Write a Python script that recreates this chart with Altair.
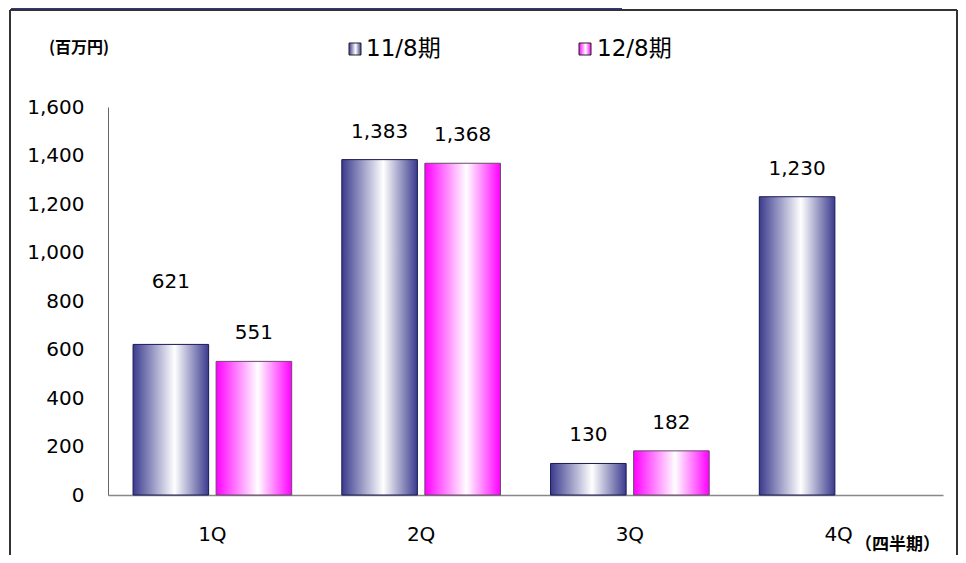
import altair as alt
import pandas as pd

quarters = ["1Q", "2Q", "3Q", "4Q"]
series_names = ["11/8期", "12/8期"]
fy11 = [621, 1383, 130, 1230]
fy12 = [551, 1368, 182, None]
y_ticks = [0, 200, 400, 600, 800, 1000, 1200, 1400, 1600]

rows = []
for q, v in zip(quarters, fy11):
    rows.append({"quarter": q, "series": series_names[0], "value": v})
for q, v in zip(quarters, fy12):
    if v is not None:
        rows.append({"quarter": q, "series": series_names[1], "value": v})
df = pd.DataFrame(rows)

FONT = "DejaVu Sans, Noto Sans CJK JP, sans-serif"
CJK = "Noto Sans CJK JP"

blue_grad = alt.Gradient(
    gradient="linear", x1=0, x2=1, y1=0, y2=0,
    stops=[alt.GradientStop(offset=0, color="#3b3b8e"),
           alt.GradientStop(offset=0.55, color="#ffffff"),
           alt.GradientStop(offset=1, color="#3b3b8e")])
pink_grad = alt.Gradient(
    gradient="linear", x1=0, x2=1, y1=0, y2=0,
    stops=[alt.GradientStop(offset=0, color="#ff00ff"),
           alt.GradientStop(offset=0.55, color="#ffffff"),
           alt.GradientStop(offset=1, color="#ff00ff")])

x_enc = alt.X("quarter:N", sort=quarters,
              scale=alt.Scale(domain=quarters, paddingInner=0.24, paddingOuter=0.12),
              axis=alt.Axis(title=None, labelAngle=0, ticks=False, labelPadding=29,
                            labelFontSize=20, labelFont=FONT, labelColor="#000",
                            domainColor="#888888", domainWidth=1.5))
xo_enc = alt.XOffset("series:N", scale=alt.Scale(domain=series_names, paddingInner=0.09))
y_enc = alt.Y("value:Q", scale=alt.Scale(domain=[0, 1600], nice=False),
              axis=alt.Axis(title=None, values=y_ticks, format=",d", ticks=False,
                            grid=False, labelPadding=24, labelFontSize=20,
                            labelFont=FONT, labelColor="#000",
                            domainColor="#666666", domainWidth=1))

base = alt.Chart(df)

bars11 = base.transform_filter(alt.datum.series == series_names[0]).mark_bar(
    color=blue_grad, stroke="#1a1a55", strokeWidth=1
).encode(x=x_enc, xOffset=xo_enc, y=y_enc)

bars12 = base.transform_filter(alt.datum.series == series_names[1]).mark_bar(
    color=pink_grad, stroke="#6a4a6a", strokeWidth=1
).encode(x=x_enc, xOffset=xo_enc, y=y_enc)

labels = base.transform_filter(alt.datum.value != 621).mark_text(
    font=FONT, fontSize=20, color="#000", baseline="middle", dy=-28
).encode(x=x_enc, xOffset=xo_enc, y=y_enc, text=alt.Text("value:Q", format=",d"))

labels_hi = base.transform_filter(alt.datum.value == 621).mark_text(
    font=FONT, fontSize=20, color="#000", baseline="middle", dy=-62
).encode(x=x_enc, xOffset=xo_enc, y=y_enc, text=alt.Text("value:Q", format=",d"))

dummy = alt.Chart(pd.DataFrame({"k": [0]}))

header = dummy.mark_rect(color="#333399").encode(
    x=alt.value(-97), x2=alt.value(514), y=alt.value(-99), y2=alt.value(-97))
frame_top = dummy.mark_rule(color="#333333", strokeWidth=2).encode(
    x=alt.value(-98), x2=alt.value(849), y=alt.value(-97))
frame_left = dummy.mark_rule(color="#333333", strokeWidth=2).encode(
    x=alt.value(-98), y=alt.value(-97), y2=alt.value(448))
frame_right = dummy.mark_rule(color="#333333", strokeWidth=2).encode(
    x=alt.value(849), y=alt.value(-97), y2=alt.value(448))

unit_txt = dummy.mark_text(font=CJK, fontSize=16, fontWeight="bold",
                           align="left", baseline="middle", color="#000").encode(
    x=alt.value(-59), y=alt.value(-59), text=alt.value("(百万円)"))
period_txt = dummy.mark_text(font=CJK, fontSize=17, fontWeight="bold",
                             align="left", baseline="middle", color="#000").encode(
    x=alt.value(747), y=alt.value(438), text=alt.value("（四半期）"))

leg_sym1 = dummy.mark_rect(color=blue_grad, stroke="#222", strokeWidth=1).encode(
    x=alt.value(241), x2=alt.value(253), y=alt.value(-64), y2=alt.value(-52))
leg_sym2 = dummy.mark_rect(color=pink_grad, stroke="#222", strokeWidth=1).encode(
    x=alt.value(471), x2=alt.value(483), y=alt.value(-64), y2=alt.value(-52))
leg_txt1 = dummy.mark_text(font=FONT, fontSize=23, align="left", baseline="middle",
                           color="#000").encode(
    x=alt.value(258), y=alt.value(-58), text=alt.value(series_names[0]))
leg_txt2 = dummy.mark_text(font=FONT, fontSize=23, align="left", baseline="middle",
                           color="#000").encode(
    x=alt.value(489), y=alt.value(-58), text=alt.value(series_names[1]))

chart = alt.layer(
    header, frame_top, frame_left, frame_right,
    bars11, bars12, labels, labels_hi,
    unit_txt, period_txt, leg_sym1, leg_sym2, leg_txt1, leg_txt2
).properties(
    width=835, height=388,
    autosize=alt.AutoSizeParams(type="none"),
    padding={"left": 100, "top": 99, "right": 15, "bottom": 60},
    background="white"
).configure_view(stroke=None)

chart.save("out.html", embed_options={"renderer": "svg", "actions": False})
